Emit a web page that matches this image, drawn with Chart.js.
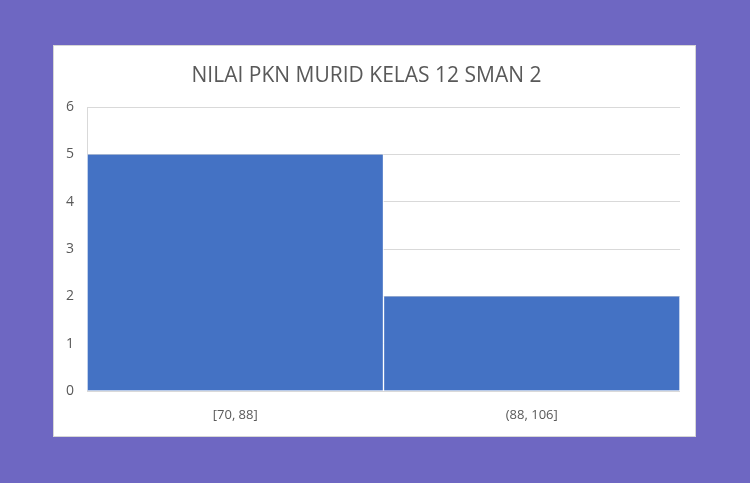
<!DOCTYPE html>
<html>
<head>
<meta charset="utf-8">
<script src="https://cdn.jsdelivr.net/npm/chart.js@4/dist/chart.umd.min.js"></script>
<style>
  html, body { margin: 0; padding: 0; }
  body { width: 750px; height: 483px; background: #6e67c2; position: relative; overflow: hidden; }
  #panel { position: absolute; left: 53px; top: 45px; width: 643px; height: 392px; background: #fff; box-shadow: inset 0 0 0 1px #d6d6d6; }
</style>
</head>
<body>
<div id="panel"><canvas id="histChart"></canvas></div>
<script>
const categories = ["[70, 88]", "(88, 106]"];
const counts = [5, 2];
const yTicks = [0, 1, 2, 3, 4, 5, 6];

document.addEventListener("DOMContentLoaded", function () {
  const ctx = document.getElementById("histChart").getContext("2d");
  const textColor = "#595959";
  const fontFamily = "'Open Sans', 'Noto Sans', sans-serif";

  new Chart(ctx, {
    type: "bar",
    data: {
      labels: categories,
      datasets: [
        {
          label: "Frekuensi",
          data: counts,
          backgroundColor: "#4472c4",
          borderColor: "#ffffff",
          borderWidth: { left: 1, right: 1, top: 0, bottom: 0 },
          barPercentage: 1,
          categoryPercentage: 1,
        },
      ],
    },
    options: {
      responsive: true,
      maintainAspectRatio: false,
      animation: false,
      layout: { padding: { left: 0, right: 16, top: 18, bottom: 0 } },
      plugins: {
        legend: { display: false },
        tooltip: { enabled: false },
        title: {
          display: true,
          text: "NILAI PKN MURID KELAS 12 SMAN 2",
          color: textColor,
          font: { family: fontFamily, size: 21, weight: "normal" },
          padding: { top: 0, bottom: 19 },
        },
      },
      scales: {
        x: {
          grid: { display: false },
          border: { display: false },
          ticks: { color: textColor, font: { family: fontFamily, size: 13 }, padding: 8 },
          afterFit: function (scale) { scale.height = 46; },
        },
        y: {
          min: yTicks[0],
          max: yTicks[yTicks.length - 1],
          afterBuildTicks: function (scale) { scale.ticks = yTicks.map(v => ({ value: v })); },
          grid: { color: "#d9d9d9", drawTicks: false },
          border: { display: true, color: "#d9d9d9" },
          ticks: { color: textColor, font: { family: fontFamily, size: 14 }, padding: 13 },
          afterFit: function (scale) { scale.width = 34; },
        },
      },
    },
  });
});
</script>
</body>
</html>
